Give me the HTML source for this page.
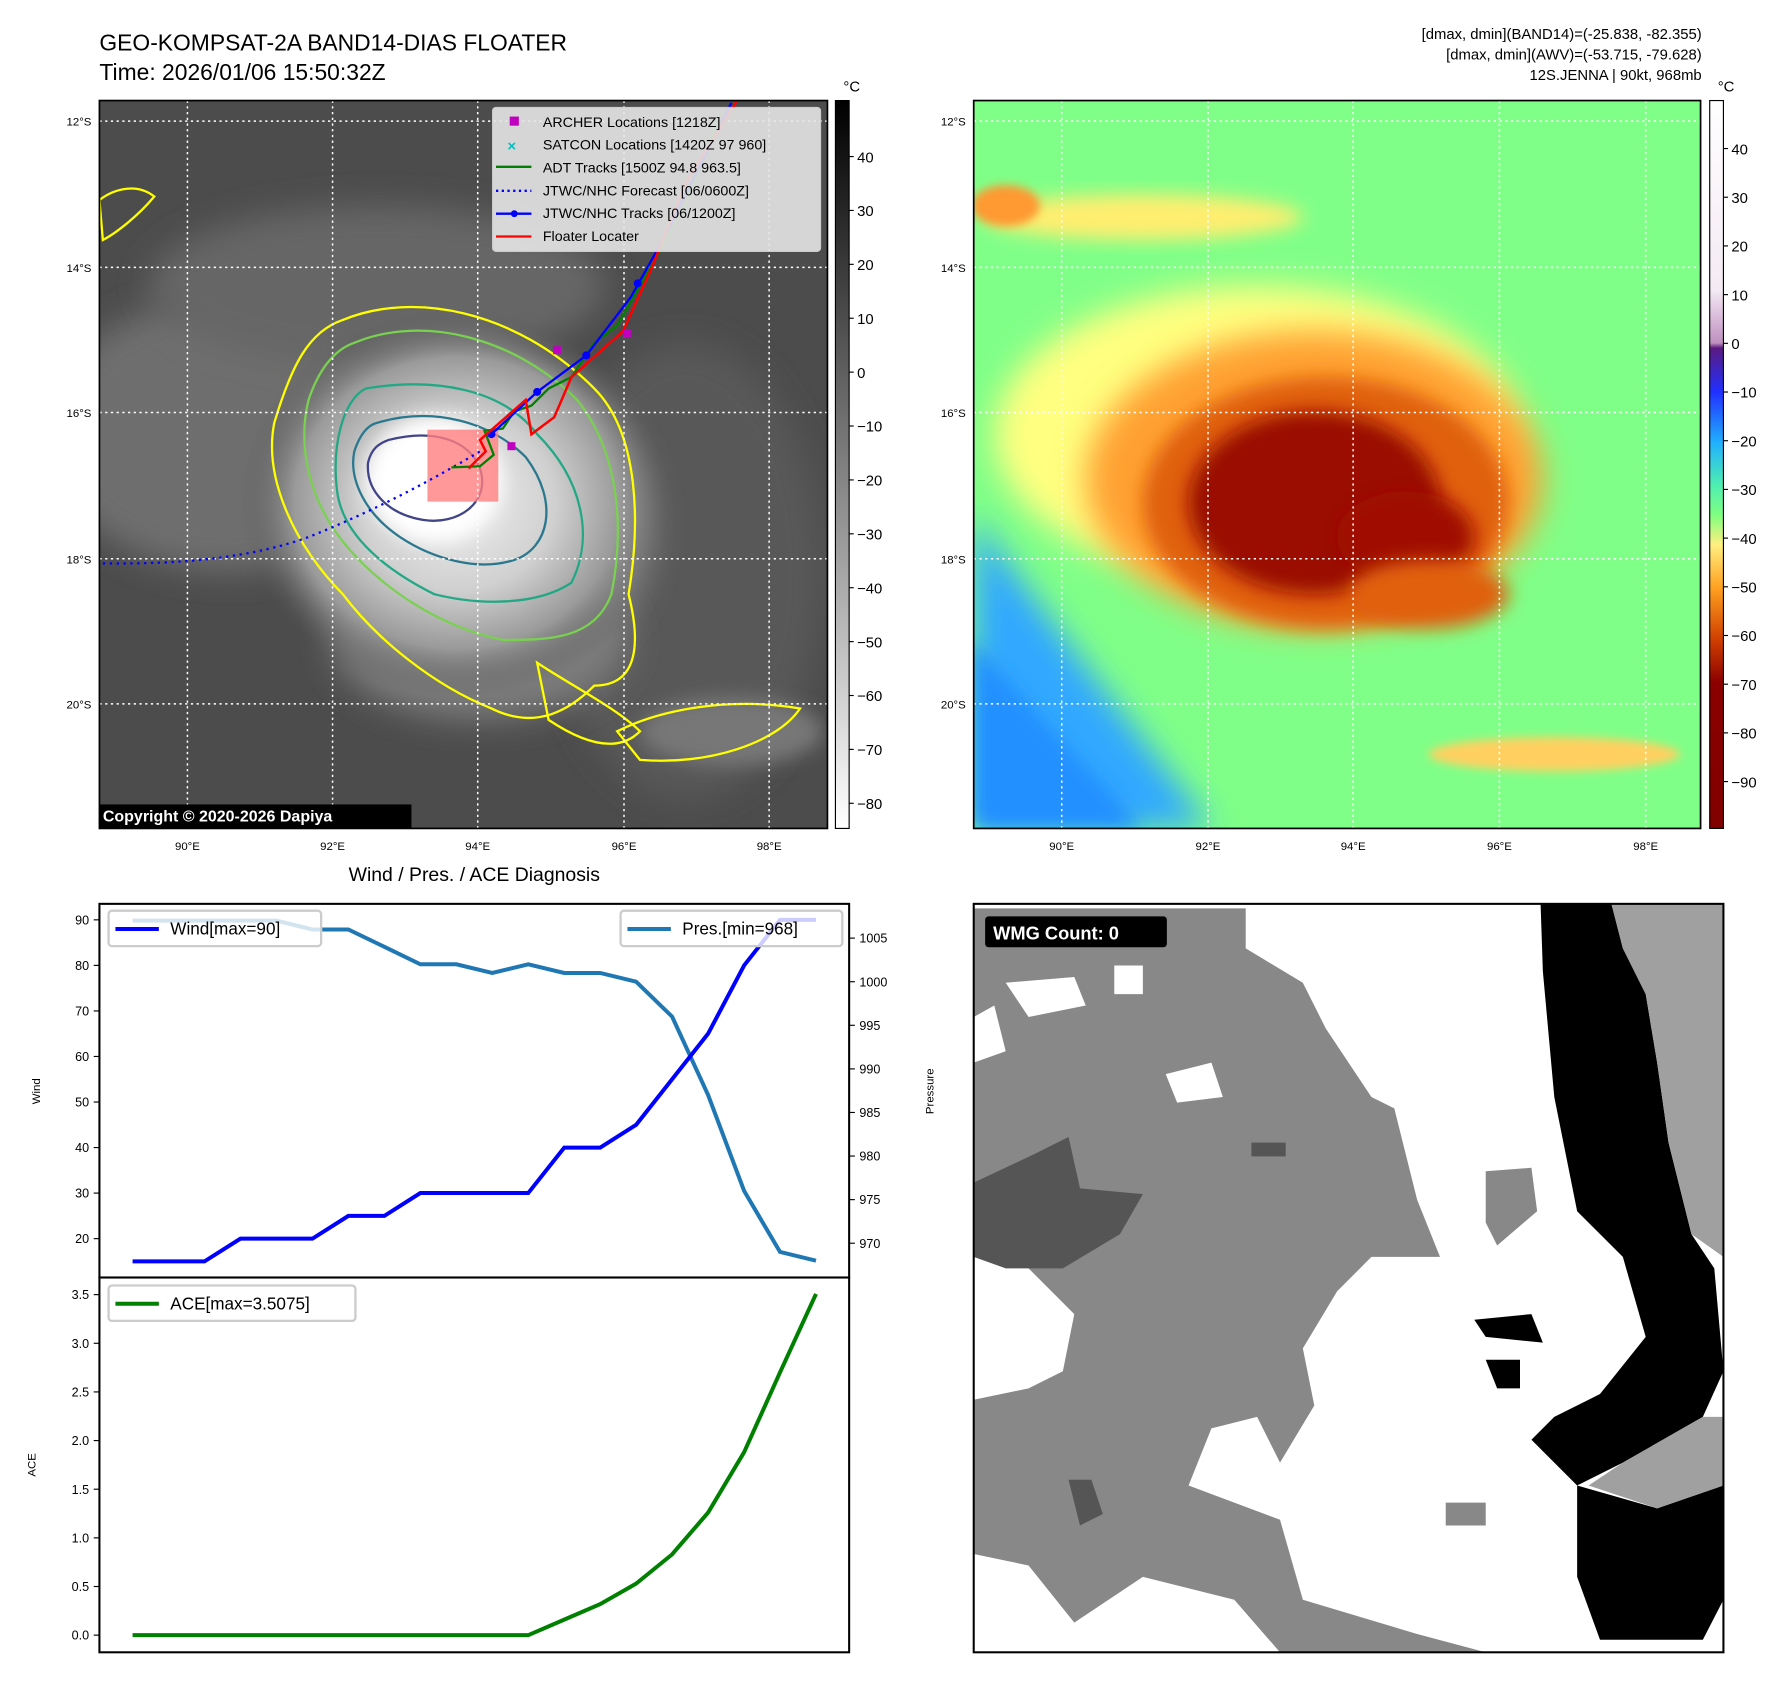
<!DOCTYPE html>
<html><head><meta charset="utf-8">
<style>
html,body{margin:0;padding:0;background:#fff;}
svg{display:block;font-family:"Liberation Sans","DejaVu Sans",sans-serif;}
</style></head>
<body>
<svg id="fig" width="1792" height="1690" viewBox="0 0 1568 1479" preserveAspectRatio="none" xmlns="http://www.w3.org/2000/svg">
<defs>
  <filter id="blur8" x="-30%" y="-30%" width="160%" height="160%"><feGaussianBlur stdDeviation="8"/></filter>
  <filter id="blur14" x="-30%" y="-30%" width="160%" height="160%"><feGaussianBlur stdDeviation="14"/></filter>
  <filter id="blur4" x="-30%" y="-30%" width="160%" height="160%"><feGaussianBlur stdDeviation="4"/></filter>
  <clipPath id="clipL"><rect x="87" y="88" width="637" height="637"/></clipPath>
  <clipPath id="clipR"><rect x="852" y="88" width="636" height="637"/></clipPath>
  <clipPath id="clipW"><rect x="852" y="791" width="656" height="655"/></clipPath>
  <linearGradient id="gGrey" x1="0" y1="0" x2="0" y2="1">
    <stop offset="0" stop-color="#000"/><stop offset="1" stop-color="#fff"/>
  </linearGradient>
  <linearGradient id="gRain" x1="0" y1="0" x2="0" y2="1">
    <stop offset="0" stop-color="#ffffff"/>
    <stop offset="0.26" stop-color="#f4eaf4"/>
    <stop offset="0.333" stop-color="#c090c0"/>
    <stop offset="0.34" stop-color="#5a1a80"/>
    <stop offset="0.40" stop-color="#2030ff"/>
    <stop offset="0.47" stop-color="#20b0ff"/>
    <stop offset="0.53" stop-color="#50f0b0"/>
    <stop offset="0.57" stop-color="#80ff80"/>
    <stop offset="0.61" stop-color="#fff080"/>
    <stop offset="0.67" stop-color="#ffa020"/>
    <stop offset="0.74" stop-color="#d04000"/>
    <stop offset="0.80" stop-color="#8b0000"/>
    <stop offset="1" stop-color="#800000"/>
  </linearGradient>
  <radialGradient id="cloudL" cx="0.5" cy="0.5" r="0.5">
    <stop offset="0" stop-color="#f0f0f0"/><stop offset="0.45" stop-color="#d0d0d0"/>
    <stop offset="0.75" stop-color="#9a9a9a"/><stop offset="1" stop-color="#555" stop-opacity="0"/>
  </radialGradient>
</defs>

<text x="87" y="44" font-size="20">GEO-KOMPSAT-2A BAND14-DIAS FLOATER</text>
<text x="87" y="70" font-size="20">Time: 2026/01/06 15:50:32Z</text>
<g font-size="13" text-anchor="end">
  <text x="1489" y="34">[dmax, dmin](BAND14)=(-25.838, -82.355)</text>
  <text x="1489" y="52">[dmax, dmin](AWV)=(-53.715, -79.628)</text>
  <text x="1489" y="70">12S.JENNA | 90kt, 968mb</text>
</g>

<!-- LEFT MAP -->
<g clip-path="url(#clipL)">
  <rect x="87" y="88" width="637" height="637" fill="#4c4c4c"/>
  <ellipse cx="200" cy="380" rx="160" ry="120" fill="#6e6e6e" filter="url(#blur14)"/>
  <ellipse cx="330" cy="250" rx="200" ry="70" fill="#666" filter="url(#blur14)"/>
  <ellipse cx="600" cy="500" rx="120" ry="200" fill="#585858" filter="url(#blur14)"/>
  <ellipse cx="420" cy="460" rx="150" ry="140" fill="#8a8a8a" filter="url(#blur14)"/>
  <ellipse cx="420" cy="560" rx="130" ry="70" fill="#7a7a7a" filter="url(#blur14)"/>
  <ellipse cx="400" cy="440" rx="190" ry="170" fill="url(#cloudL)"/>
  <ellipse cx="380" cy="420" rx="60" ry="55" fill="#fff" filter="url(#blur8)"/>
  <ellipse cx="640" cy="640" rx="80" ry="30" fill="#777" filter="url(#blur8)"/>
  <g fill="none" stroke-width="2">
    <path d="M300,280 C360,255 450,270 520,340 C560,380 560,460 550,520 C560,560 560,600 520,600 C500,620 470,640 430,620 C380,600 330,560 300,520 C260,480 230,420 240,370 C255,320 270,290 300,280 Z" stroke="#ffff00"/>
    <path d="M310,300 C370,275 450,295 505,350 C545,400 545,470 535,520 C520,560 480,560 440,560 C390,550 340,520 305,480 C270,440 260,390 270,350 C280,320 295,305 310,300 Z" stroke="#7ad151"/>
    <path d="M320,340 C380,330 440,340 470,380 C510,420 520,470 500,510 C470,530 420,530 380,520 C340,500 300,470 295,430 C290,390 300,350 320,340 Z" stroke="#22a884"/>
    <path d="M330,370 C380,355 430,370 460,400 C490,440 480,480 450,490 C420,500 380,490 350,470 C320,450 305,420 310,395 C315,380 322,372 330,370 Z" stroke="#2a788e"/>
    <path d="M340,385 C380,375 410,385 420,410 C430,440 400,460 370,455 C340,450 320,430 322,405 C325,392 332,388 340,385 Z" stroke="#414487"/>
    <path d="M470,580 C500,600 540,620 560,640 C540,660 510,650 480,630 Z" stroke="#ffff00"/>
    <path d="M540,640 C580,620 640,610 700,620 C680,650 620,670 560,665 Z" stroke="#ffff00"/>
    <path d="M87,175 C100,165 120,160 135,172 C120,190 100,205 90,210 Z" stroke="#ffff00"/>
  </g>
  <rect x="374" y="376" width="62" height="63" fill="#ff8080" opacity="0.8"/>
  <g stroke="#fff" stroke-dasharray="2,3" stroke-width="1.3">
    <line x1="87" y1="106" x2="724" y2="106"/><line x1="87" y1="234" x2="724" y2="234"/>
    <line x1="87" y1="361" x2="724" y2="361"/><line x1="87" y1="489" x2="724" y2="489"/>
    <line x1="87" y1="616" x2="724" y2="616"/>
    <line x1="164" y1="88" x2="164" y2="725"/><line x1="291" y1="88" x2="291" y2="725"/>
    <line x1="418" y1="88" x2="418" y2="725"/><line x1="546" y1="88" x2="546" y2="725"/>
    <line x1="673" y1="88" x2="673" y2="725"/>
  </g>
  <path d="M90,493 C160,494 220,488 270,470 C320,450 370,425 420,395" fill="none" stroke="#0000ff" stroke-width="2" stroke-dasharray="2,4"/>
  <path d="M395,409 L420,408 L432,398 L424,377 L440,375 L450,360 L465,355 L480,340 L500,330 L520,300 L540,285 L560,250 L580,215 L600,180 L630,100" fill="none" stroke="#008000" stroke-width="2"/>
  <path d="M430,380 L470,343 L513,311 L552,260 L580,210 L610,150 L640,90" fill="none" stroke="#0000ff" stroke-width="2"/>
  <g fill="#0000ff"><circle cx="430" cy="380" r="3.5"/><circle cx="470" cy="343" r="3.5"/><circle cx="513" cy="311" r="3.5"/><circle cx="558" cy="248" r="3.5"/></g>
  <path d="M410,410 L425,395 L420,385 L460,350 L465,380 L485,365 L500,330 L545,290 L570,235 L600,160 L645,88" fill="none" stroke="#ff0000" stroke-width="2.2"/>
  <g fill="#c000c0"><rect x="484" y="303" width="7" height="7"/><rect x="444" y="387" width="7" height="7"/><rect x="545" y="288" width="7" height="7"/></g>
  <g>
    <rect x="431" y="94" width="287" height="126" rx="3" fill="#e6e6e6" fill-opacity="0.9" stroke="#ccc"/>
    <g font-size="12.5">
      <rect x="446" y="102" width="8" height="8" fill="#c000c0"/><text x="475" y="111">ARCHER Locations [1218Z]</text>
      <text x="444" y="132" fill="#00c0c0" font-size="13" font-weight="bold">×</text><text x="475" y="131">SATCON Locations [1420Z 97 960]</text>
      <line x1="434" y1="146" x2="465" y2="146" stroke="#008000" stroke-width="2"/><text x="475" y="151">ADT Tracks [1500Z 94.8 963.5]</text>
      <line x1="434" y1="167" x2="465" y2="167" stroke="#0000ff" stroke-width="2" stroke-dasharray="2,3"/><text x="475" y="171">JTWC/NHC Forecast [06/0600Z]</text>
      <line x1="434" y1="187" x2="465" y2="187" stroke="#0000ff" stroke-width="2"/><circle cx="450" cy="187" r="3" fill="#0000ff"/><text x="475" y="191">JTWC/NHC Tracks [06/1200Z]</text>
      <line x1="434" y1="207" x2="465" y2="207" stroke="#ff0000" stroke-width="2"/><text x="475" y="211">Floater Locater</text>
    </g>
  </g>
  <rect x="85" y="704" width="275" height="21" fill="#000"/>
  <text x="90" y="719" fill="#fff" font-size="14" font-weight="bold">Copyright © 2020-2026 Dapiya</text>
</g>
<rect x="87" y="88" width="637" height="637" fill="none" stroke="#000" stroke-width="1.5"/>
<g font-size="10" text-anchor="end">
  <text x="80" y="110">12°S</text><text x="80" y="238">14°S</text><text x="80" y="365">16°S</text><text x="80" y="493">18°S</text><text x="80" y="620">20°S</text>
</g>
<g font-size="10" text-anchor="middle">
  <text x="164" y="744">90°E</text><text x="291" y="744">92°E</text><text x="418" y="744">94°E</text><text x="546" y="744">96°E</text><text x="673" y="744">98°E</text>
</g>
<g>
  <rect x="731" y="88" width="12" height="637" fill="url(#gGrey)" stroke="#000" stroke-width="1"/>
  <text x="738" y="80" font-size="13">°C</text>
  <g id="cbL" font-size="13"></g>
</g>

<!-- RIGHT MAP -->
<g clip-path="url(#clipR)">
  <rect x="852" y="88" width="636" height="637" fill="#80ff88"/>
  <path d="M852,450 C900,520 980,620 1060,725 L852,725 Z" fill="#30a8ff" filter="url(#blur14)"/>
  <path d="M852,560 C900,620 960,680 1000,725 L852,725 Z" fill="#2090ff" filter="url(#blur8)"/>
  <ellipse cx="1100" cy="380" rx="230" ry="130" fill="#ffff80" filter="url(#blur14)"/>
  <ellipse cx="1000" cy="190" rx="140" ry="20" fill="#ffee70" filter="url(#blur8)"/>
  <ellipse cx="880" cy="180" rx="30" ry="18" fill="#ff9933" filter="url(#blur4)"/>
  <ellipse cx="1150" cy="420" rx="200" ry="130" fill="#ffa030" filter="url(#blur14)"/>
  <ellipse cx="1160" cy="440" rx="160" ry="110" fill="#e06010" filter="url(#blur8)"/>
  <ellipse cx="1150" cy="440" rx="110" ry="80" fill="#9a0a00" filter="url(#blur8)"/>
  <ellipse cx="1230" cy="470" rx="60" ry="40" fill="#a01000" filter="url(#blur8)"/>
  <ellipse cx="1250" cy="520" rx="70" ry="30" fill="#e06010" filter="url(#blur8)"/>
  <ellipse cx="1360" cy="660" rx="110" ry="15" fill="#ffd060" filter="url(#blur4)"/>
  <g stroke="#fff" stroke-dasharray="2,3" stroke-width="1.3">
    <line x1="852" y1="106" x2="1488" y2="106"/><line x1="852" y1="234" x2="1488" y2="234"/>
    <line x1="852" y1="361" x2="1488" y2="361"/><line x1="852" y1="489" x2="1488" y2="489"/>
    <line x1="852" y1="616" x2="1488" y2="616"/>
    <line x1="929" y1="88" x2="929" y2="725"/><line x1="1057" y1="88" x2="1057" y2="725"/>
    <line x1="1184" y1="88" x2="1184" y2="725"/><line x1="1312" y1="88" x2="1312" y2="725"/>
    <line x1="1440" y1="88" x2="1440" y2="725"/>
  </g>
</g>
<rect x="852" y="88" width="636" height="637" fill="none" stroke="#000" stroke-width="1.5"/>
<g font-size="10" text-anchor="end">
  <text x="845" y="110">12°S</text><text x="845" y="238">14°S</text><text x="845" y="365">16°S</text><text x="845" y="493">18°S</text><text x="845" y="620">20°S</text>
</g>
<g font-size="10" text-anchor="middle">
  <text x="929" y="744">90°E</text><text x="1057" y="744">92°E</text><text x="1184" y="744">94°E</text><text x="1312" y="744">96°E</text><text x="1440" y="744">98°E</text>
</g>
<g>
  <rect x="1496" y="88" width="12" height="637" fill="url(#gRain)" stroke="#000" stroke-width="1"/>
  <text x="1503" y="80" font-size="13">°C</text>
  <g id="cbR" font-size="13"></g>
</g>

<text x="415" y="771" font-size="17" text-anchor="middle">Wind / Pres. / ACE Diagnosis</text>
<g id="windPanel"></g>
<g id="acePanel"></g>
<rect x="87" y="791" width="656" height="327" fill="none" stroke="#000" stroke-width="1.8"/>
<rect x="87" y="1118" width="656" height="328" fill="none" stroke="#000" stroke-width="1.8"/>
<text transform="translate(35,955) rotate(-90)" font-size="10" text-anchor="middle">Wind</text>
<text transform="translate(817,955) rotate(-90)" font-size="10" text-anchor="middle">Pressure</text>
<text transform="translate(31,1282) rotate(-90)" font-size="10" text-anchor="middle">ACE</text>

<!-- WMG panel -->
<g clip-path="url(#clipW)">
  <rect x="852" y="791" width="656" height="655" fill="#fff"/>
  <polygon fill="#888" points="852,795 1090,795 1090,830 1140,860 1160,900 1200,960 1220,970 1240,1050 1260,1100 1200,1100 1170,1130 1140,1180 1150,1230 1120,1280 1100,1240 1060,1250 1040,1300 1120,1330 1140,1400 1240,1430 1300,1446 1120,1446 1080,1400 1000,1380 940,1420 900,1370 852,1360"/>
  <polygon fill="#fff" points="852,1100 900,1110 940,1150 930,1200 900,1215 852,1225"/>
  <polygon fill="#fff" points="880,860 940,855 950,880 900,890"/>
  <polygon fill="#fff" points="1020,940 1060,930 1070,960 1030,965"/>
  <polygon fill="#fff" points="975,845 1000,845 1000,870 975,870"/>
  <polygon fill="#fff" points="852,890 870,880 880,920 852,930"/>
  <polygon fill="#555" points="852,1035 905,1010 935,995 945,1040 1000,1045 980,1080 930,1110 880,1110 852,1100"/>
  <polygon fill="#555" points="935,1295 955,1295 965,1325 945,1335"/>
  <polygon fill="#555" points="1095,1000 1125,1000 1125,1012 1095,1012"/>
  <polygon fill="#888" points="1300,1025 1340,1022 1345,1060 1310,1090 1300,1070"/>
  <polygon fill="#888" points="1265,1315 1300,1315 1300,1335 1265,1335"/>
  <polygon fill="#000" points="1348,791 1410,791 1420,830 1440,870 1450,930 1460,1000 1480,1080 1500,1110 1508,1200 1490,1240 1420,1280 1380,1300 1340,1260 1360,1240 1400,1220 1440,1170 1420,1100 1380,1060 1360,960 1350,850"/>
  <polygon fill="#000" points="1290,1155 1340,1150 1350,1175 1300,1170"/>
  <polygon fill="#000" points="1300,1190 1330,1190 1330,1215 1310,1215"/>
  <polygon fill="#000" points="1380,1300 1450,1320 1508,1300 1508,1400 1490,1435 1400,1435 1380,1380"/>
  <polygon fill="#a0a0a0" points="1410,791 1508,791 1508,1100 1480,1080 1460,1000 1450,930 1440,870 1420,830"/>
  <polygon fill="#a0a0a0" points="1420,1280 1490,1240 1508,1240 1508,1300 1450,1320 1390,1300"/>
  <rect x="862" y="802" width="159" height="27" rx="3" fill="#000"/>
  <text x="869" y="822" fill="#fff" font-size="16" font-weight="bold">WMG Count: 0</text>
</g>
<rect x="852" y="791" width="656" height="655" fill="none" stroke="#000" stroke-width="1.8"/>
</svg>

<script>
var windVals = [15,15,15,20,20,20,25,25,30,30,30,30,40,40,45,55,65,80,90,90];
var presVals = [1007,1007,1007,1007,1007,1006,1006,1004,1002,1002,1001,1002,1001,1001,1000,996,987,976,969,968];
var aceVals = [0,0,0,0,0,0,0,0,0,0,0,0,0.16,0.32,0.53,0.83,1.26,1.88,2.7,3.5075];
var windTicks = [20,30,40,50,60,70,80,90];
var presTicks = [970,975,980,985,990,995,1000,1005];
var aceTicks = [0.0,0.5,1.0,1.5,2.0,2.5,3.0,3.5];
var cbLTicks = [40,30,20,10,0,-10,-20,-30,-40,-50,-60,-70,-80];
var cbRTicks = [40,30,20,10,0,-10,-20,-30,-40,-50,-60,-70,-80,-90];

var NS = 'http://www.w3.org/2000/svg';
function mk(tag, attrs, parent){var e=document.createElementNS(NS,tag);for(var k in attrs)e.setAttribute(k,attrs[k]);parent.appendChild(e);return e;}
function xIdx(i){return 116 + i*(714-116)/(windVals.length-1);}
function yWind(v){return 1084 - (v-20)*(1084-805)/70;}
function yPres(v){return 1088 - (v-970)*(1088-821)/35;}
function yAce(v){return 1431 - v*(1431-1133)/3.5;}
function yCbL(v){return 137 + (40-v)*(703-137)/120;}
function yCbR(v){return 130 + (40-v)*(684-130)/130;}

var wp = document.getElementById('windPanel');
var ap = document.getElementById('acePanel');
function linePath(vals, yf){var d='';for(var i=0;i<vals.length;i++){d+=(i?'L':'M')+xIdx(i).toFixed(1)+','+yf(vals[i]).toFixed(1);}return d;}

var pLine = mk('path',{d:linePath(presVals,yPres),fill:'none',stroke:'#1f77b4','stroke-width':3.5},wp);


var wLine = mk('path',{d:linePath(windVals,yWind),fill:'none',stroke:'#0000ff','stroke-width':3.5},wp);


var aLine = mk('path',{d:linePath(aceVals,yAce),fill:'none',stroke:'#008000','stroke-width':3.5},ap);



windTicks.forEach(function(t){
  var y=yWind(t);
  mk('line',{x1:82,y1:y,x2:87,y2:y,stroke:'#000'},wp);
  var tx=mk('text',{x:78,y:y+4,'font-size':11,'text-anchor':'end'},wp);tx.textContent=t;
  
  
});
presTicks.forEach(function(t){
  var y=yPres(t);
  mk('line',{x1:743,y1:y,x2:748,y2:y,stroke:'#000'},wp);
  var tx=mk('text',{x:752,y:y+4,'font-size':11},wp);tx.textContent=t;
  
  
});
aceTicks.forEach(function(t){
  var y=yAce(t);
  mk('line',{x1:82,y1:y,x2:87,y2:y,stroke:'#000'},ap);
  var tx=mk('text',{x:78,y:y+4,'font-size':11,'text-anchor':'end'},ap);tx.textContent=t.toFixed(1);
  
  
});

function legend(parent,x,y,w,color,label,name){
  var g=mk('g',{},parent);
  
  
  mk('rect',{x:x,y:y,width:w,height:31,rx:3,fill:'#fff','fill-opacity':0.8,stroke:'#ccc','stroke-width':2},g);
  mk('line',{x1:x+6,y1:y+16,x2:x+44,y2:y+16,stroke:color,'stroke-width':3.5},g);
  var t=mk('text',{x:x+54,y:y+21,'font-size':15},g);t.textContent=label;
}
legend(wp,95,797,186,'#0000ff','Wind[max=90]','wind-legend');
legend(wp,543,797,194,'#1f77b4','Pres.[min=968]','pressure-legend');
legend(ap,95,1125,216,'#008000','ACE[max=3.5075]','ace-legend');

var cbL=document.getElementById('cbL');
cbLTicks.forEach(function(t){
  var y=yCbL(t);
  mk('line',{x1:743,y1:y,x2:747,y2:y,stroke:'#000'},cbL);
  var tx=mk('text',{x:750,y:y+5},cbL);tx.textContent=(t<0?'\u2212'+(-t):t);
  
  
});
var cbR=document.getElementById('cbR');
cbRTicks.forEach(function(t){
  var y=yCbR(t);
  mk('line',{x1:1508,y1:y,x2:1512,y2:y,stroke:'#000'},cbR);
  var tx=mk('text',{x:1515,y:y+5},cbR);tx.textContent=(t<0?'\u2212'+(-t):t);
  
  
});
</script>
</body></html>
